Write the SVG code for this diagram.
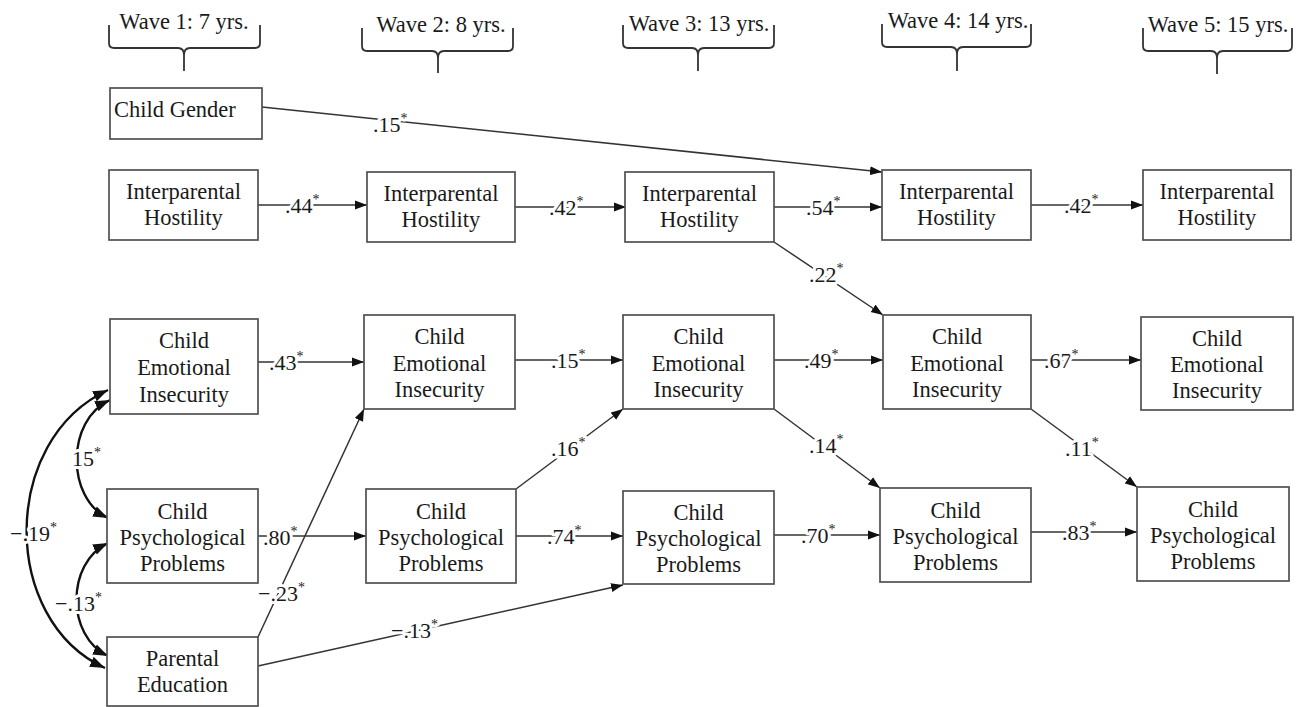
<svg xmlns="http://www.w3.org/2000/svg" width="1301" height="707" viewBox="0 0 1301 707" font-family="'Liberation Serif', 'Times New Roman', Times, 'DejaVu Serif', serif">
<style>
  .bg{fill:#fff}
  .node rect{fill:#fff;stroke:#505050;stroke-width:1.7}
  .node text,.hdr text{font-family:'Liberation Serif','Times New Roman',Times,'DejaVu Serif',serif;font-size:22.5px;fill:#1a1a1a;text-anchor:middle}
  .hdr path{fill:none;stroke:#333;stroke-width:1.8}
  .conn line,.conn path{fill:none;stroke:#333;stroke-width:1.5}
  .conn .cov{stroke:#111;stroke-width:2.4}
  .lbl{font-family:'Liberation Serif','Times New Roman',Times,'DejaVu Serif',serif;font-size:22px;fill:#1a1a1a;paint-order:stroke;stroke:#fff;stroke-width:6px;stroke-linejoin:round}
  .sup{font-size:14px;fill:#1a1a1a}
</style>
<defs>
  <marker id="ah" markerUnits="userSpaceOnUse" markerWidth="13" markerHeight="10" refX="12" refY="5" orient="auto">
    <path d="M0,0.5 L12,5 L0,9.5 z" fill="#111"/>
  </marker>
  <marker id="ahb" markerUnits="userSpaceOnUse" markerWidth="16" markerHeight="12" refX="15" refY="6" orient="auto-start-reverse">
    <path d="M0,0.5 L15,6 L0,11.5 z" fill="#111"/>
  </marker>
</defs>
<rect class="bg" x="0" y="0" width="1301" height="707"/>

<g id="headers" class="hdr">
  <text x="184" y="29">Wave 1: 7 yrs.</text>
  <path d="M109,25 V43 Q109,48 114,48 H178 Q184,48 184,55 V71 M184,55 Q184,48 190,48 H255 Q260,48 260,43 V25"/>
  <text x="441" y="32">Wave 2: 8 yrs.</text>
  <path d="M362,28 V46 Q362,51 367,51 H432 Q438,51 438,58 V73 M438,58 Q438,51 444,51 H508 Q513,51 513,46 V28"/>
  <text x="699" y="31">Wave 3: 13 yrs.</text>
  <path d="M623,25 V43 Q623,48 628,48 H692 Q698,48 698,55 V71 M698,55 Q698,48 704,48 H769 Q774,48 774,43 V25"/>
  <text x="958" y="28">Wave 4: 14 yrs.</text>
  <path d="M882,24 V42 Q882,47 887,47 H951 Q957,47 957,54 V71 M957,54 Q957,47 963,47 H1026 Q1031,47 1031,42 V24"/>
  <text x="1218" y="32">Wave 5: 15 yrs.</text>
  <path d="M1143,28 V46 Q1143,51 1148,51 H1211 Q1217,51 1217,58 V74 M1217,58 Q1217,51 1223,51 H1287 Q1292,51 1292,46 V28"/>
</g>

<g id="connectors" class="conn">
  <line x1="258" y1="205" x2="367" y2="205" marker-end="url(#ah)"/>
  <line x1="515" y1="207" x2="626" y2="207" marker-end="url(#ah)"/>
  <line x1="774" y1="207" x2="882" y2="207" marker-end="url(#ah)"/>
  <line x1="1031" y1="205" x2="1143" y2="205" marker-end="url(#ah)"/>
  <line x1="258" y1="362" x2="364" y2="362" marker-end="url(#ah)"/>
  <line x1="515" y1="360" x2="623" y2="360" marker-end="url(#ah)"/>
  <line x1="774" y1="360" x2="883" y2="360" marker-end="url(#ah)"/>
  <line x1="1031" y1="360" x2="1141" y2="360" marker-end="url(#ah)"/>
  <line x1="258" y1="536" x2="366" y2="536" marker-end="url(#ah)"/>
  <line x1="516" y1="536" x2="623" y2="536" marker-end="url(#ah)"/>
  <line x1="774" y1="535" x2="880" y2="535" marker-end="url(#ah)"/>
  <line x1="1031" y1="532" x2="1137" y2="532" marker-end="url(#ah)"/>
  <line x1="262" y1="107" x2="882" y2="172" marker-end="url(#ah)"/>
  <line x1="774" y1="242" x2="883" y2="315" marker-end="url(#ah)"/>
  <line x1="516" y1="489" x2="623" y2="409" marker-end="url(#ah)"/>
  <line x1="774" y1="409" x2="880" y2="488" marker-end="url(#ah)"/>
  <line x1="1031" y1="409" x2="1137" y2="487" marker-end="url(#ah)"/>
  <line x1="258" y1="637" x2="364" y2="409" marker-end="url(#ah)"/>
  <line x1="258" y1="666" x2="623" y2="585" marker-end="url(#ah)"/>
  <path class="cov" d="M108,390 C0,440 0,620 105,668" marker-start="url(#ahb)" marker-end="url(#ahb)"/>
  <path class="cov" d="M110,400 C66,420 66,498 108,518" marker-start="url(#ahb)" marker-end="url(#ahb)"/>
  <path class="cov" d="M108,543 C66,563 66,636 108,656" marker-start="url(#ahb)" marker-end="url(#ahb)"/>

  <text class="lbl" x="285" y="213">.44<tspan class="sup" dy="-9">*</tspan></text>
  <text class="lbl" x="549" y="215">.42<tspan class="sup" dy="-9">*</tspan></text>
  <text class="lbl" x="806" y="215">.54<tspan class="sup" dy="-9">*</tspan></text>
  <text class="lbl" x="1064" y="213">.42<tspan class="sup" dy="-9">*</tspan></text>
  <text class="lbl" x="269" y="370">.43<tspan class="sup" dy="-9">*</tspan></text>
  <text class="lbl" x="551" y="368">.15<tspan class="sup" dy="-9">*</tspan></text>
  <text class="lbl" x="804" y="368">.49<tspan class="sup" dy="-9">*</tspan></text>
  <text class="lbl" x="1044" y="368">.67<tspan class="sup" dy="-9">*</tspan></text>
  <text class="lbl" x="263" y="545">.80<tspan class="sup" dy="-9">*</tspan></text>
  <text class="lbl" x="547" y="544">.74<tspan class="sup" dy="-9">*</tspan></text>
  <text class="lbl" x="801" y="543">.70<tspan class="sup" dy="-9">*</tspan></text>
  <text class="lbl" x="1062" y="540">.83<tspan class="sup" dy="-9">*</tspan></text>
  <text class="lbl" x="373" y="132">.15<tspan class="sup" dy="-9">*</tspan></text>
  <text class="lbl" x="809" y="282">.22<tspan class="sup" dy="-9">*</tspan></text>
  <text class="lbl" x="551" y="456">.16<tspan class="sup" dy="-9">*</tspan></text>
  <text class="lbl" x="809" y="453">.14<tspan class="sup" dy="-9">*</tspan></text>
  <text class="lbl" x="1065" y="456">.11<tspan class="sup" dy="-9">*</tspan></text>
  <text class="lbl" x="258" y="601">−.23<tspan class="sup" dy="-9">*</tspan></text>
  <text class="lbl" x="391" y="638">−.13<tspan class="sup" dy="-9">*</tspan></text>
  <text class="lbl" x="72" y="466">15<tspan class="sup" dy="-9">*</tspan></text>
  <text class="lbl" x="10" y="541">−.19<tspan class="sup" dy="-9">*</tspan></text>
  <text class="lbl" x="55" y="611">−.13<tspan class="sup" dy="-9">*</tspan></text>
</g>

<g id="child-gender" class="node"><rect x="110" y="88" width="152" height="51"/><text x="114" y="117" style="text-anchor:start">Child Gender</text></g>

<g id="ih1" class="node"><rect x="109" y="170" width="149" height="70"/><text x="183.5" y="199">Interparental</text><text x="183.5" y="225">Hostility</text></g>
<g id="ih2" class="node"><rect x="367" y="172" width="148" height="70"/><text x="441" y="201">Interparental</text><text x="441" y="227">Hostility</text></g>
<g id="ih3" class="node"><rect x="625" y="172" width="149" height="70"/><text x="699.5" y="201">Interparental</text><text x="699.5" y="227">Hostility</text></g>
<g id="ih4" class="node"><rect x="882" y="170" width="149" height="70"/><text x="956.5" y="199">Interparental</text><text x="956.5" y="225">Hostility</text></g>
<g id="ih5" class="node"><rect x="1143" y="170" width="148" height="70"/><text x="1217" y="199">Interparental</text><text x="1217" y="225">Hostility</text></g>

<g id="cei1" class="node"><rect x="110" y="319" width="148" height="95"/><text x="184" y="348">Child</text><text x="184" y="375">Emotional</text><text x="184" y="402">Insecurity</text></g>
<g id="cei2" class="node"><rect x="364" y="315" width="151" height="94"/><text x="439.5" y="344">Child</text><text x="439.5" y="371">Emotional</text><text x="439.5" y="397">Insecurity</text></g>
<g id="cei3" class="node"><rect x="623" y="315" width="151" height="94"/><text x="698.5" y="344">Child</text><text x="698.5" y="371">Emotional</text><text x="698.5" y="397">Insecurity</text></g>
<g id="cei4" class="node"><rect x="883" y="315" width="148" height="94"/><text x="957" y="344">Child</text><text x="957" y="371">Emotional</text><text x="957" y="397">Insecurity</text></g>
<g id="cei5" class="node"><rect x="1141" y="317" width="152" height="93"/><text x="1217" y="346">Child</text><text x="1217" y="372">Emotional</text><text x="1217" y="398">Insecurity</text></g>

<g id="cpp1" class="node"><rect x="107" y="489" width="151" height="94"/><text x="182.5" y="519">Child</text><text x="182.5" y="545">Psychological</text><text x="182.5" y="571">Problems</text></g>
<g id="cpp2" class="node"><rect x="366" y="489" width="150" height="94"/><text x="441" y="519">Child</text><text x="441" y="545">Psychological</text><text x="441" y="571">Problems</text></g>
<g id="cpp3" class="node"><rect x="623" y="491" width="151" height="93"/><text x="698.5" y="520">Child</text><text x="698.5" y="546">Psychological</text><text x="698.5" y="572">Problems</text></g>
<g id="cpp4" class="node"><rect x="880" y="488" width="151" height="94"/><text x="955.5" y="518">Child</text><text x="955.5" y="544">Psychological</text><text x="955.5" y="570">Problems</text></g>
<g id="cpp5" class="node"><rect x="1137" y="487" width="152" height="94"/><text x="1213" y="517">Child</text><text x="1213" y="543">Psychological</text><text x="1213" y="569">Problems</text></g>

<g id="parental-education" class="node"><rect x="107" y="637" width="151" height="69"/><text x="182.5" y="666">Parental</text><text x="182.5" y="692">Education</text></g>
</svg>
